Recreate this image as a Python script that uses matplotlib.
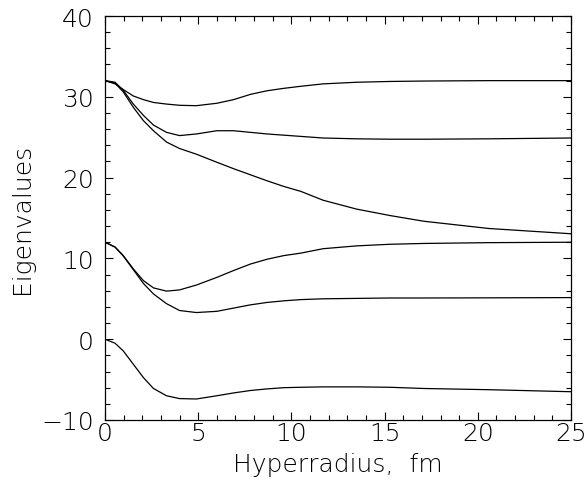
import matplotlib
matplotlib.use("Agg")
import matplotlib.pyplot as plt
from matplotlib.ticker import MultipleLocator

# hyperradius grid (fm) and eigenvalue curves
r = [0, 0.54, 0.98, 1.52, 2.06, 2.6, 3.3, 4.0, 4.9, 6.0, 6.9, 7.8, 8.7, 9.6, 10.5, 11.7, 13.5, 15.3, 17.1, 20.6, 25]
ev1 = [32, 31.6, 30.9, 30.1, 29.65, 29.3, 29.1, 28.95, 28.9, 29.2, 29.65, 30.3, 30.75, 31.05, 31.3, 31.6, 31.8, 31.9, 31.95, 32.0, 32.0]
ev2 = [32, 31.8, 30.8, 29.1, 27.7, 26.5, 25.6, 25.2, 25.4, 25.8, 25.8, 25.6, 25.4, 25.25, 25.1, 24.9, 24.8, 24.75, 24.75, 24.8, 24.9]
ev3 = [32, 31.7, 30.6, 28.7, 27.05, 25.8, 24.4, 23.6, 22.9, 21.9, 21.1, 20.35, 19.6, 18.9, 18.3, 17.2, 16.1, 15.3, 14.6, 13.7, 13.05]
ev4 = [12, 11.4, 10.35, 8.7, 7.25, 6.35, 5.95, 6.1, 6.7, 7.65, 8.5, 9.3, 9.9, 10.35, 10.65, 11.2, 11.55, 11.75, 11.85, 11.95, 12.0]
ev5 = [12, 11.4, 10.3, 8.6, 6.9, 5.6, 4.4, 3.55, 3.3, 3.45, 3.85, 4.25, 4.55, 4.75, 4.9, 5.0, 5.05, 5.1, 5.1, 5.12, 5.15]
ev6 = [0, -0.5, -1.45, -3.1, -4.75, -6.1, -7.0, -7.35, -7.4, -7.0, -6.65, -6.35, -6.15, -6.0, -5.95, -5.9, -5.9, -5.95, -6.1, -6.25, -6.5]

plt.rcParams['font.family'] = ['DejaVu Sans']
plt.rcParams['font.weight'] = 200

fig = plt.figure(figsize=(5.88, 4.81), dpi=100)
ax = fig.add_axes([105/588, 1-421/481, 466/588, 404/481])

for ev in [ev1, ev2, ev3, ev4, ev5, ev6]:
    ax.plot(r, ev, color='black', lw=0.9)

ax.set_xlim(0, 25)
ax.set_ylim(-10, 40)
ax.xaxis.set_major_locator(MultipleLocator(5))
ax.xaxis.set_minor_locator(MultipleLocator(1))
ax.yaxis.set_major_locator(MultipleLocator(10))
ax.yaxis.set_minor_locator(MultipleLocator(2))
ax.tick_params(which='both', direction='in', top=True, right=True, width=0.8, colors='black')
ax.tick_params(which='major', length=6, labelsize=18)
ax.tick_params(which='minor', length=3.5)
ax.tick_params(axis='x', which='major', pad=1)
ax.tick_params(axis='y', which='major', pad=8)
for s in ax.spines.values():
    s.set_linewidth(0.9)

ax.set_xlabel('Hyperradius,  fm', fontsize=18, va='center', fontweight=200)
ax.xaxis.set_label_coords(0.5, (421-465)/404)
ax.set_ylabel('Eigenvalues', fontsize=18, va='center', fontweight=200)
ax.yaxis.set_label_coords((22-105)/466, 0.5)

fig.savefig('out.png', dpi=100)
